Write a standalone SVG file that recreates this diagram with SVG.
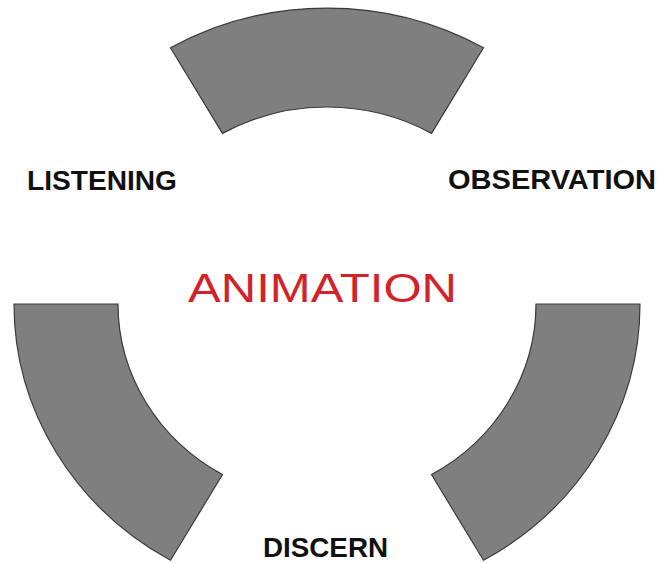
<svg xmlns="http://www.w3.org/2000/svg" width="658" height="563" viewBox="0 0 658 563">
<style>
.seg{fill:#7f7f7f;stroke:#3a3a3a;stroke-width:1.2;stroke-linejoin:miter}
.lbl{font-family:"Liberation Sans",Arial,sans-serif;font-weight:bold;font-size:28px;fill:#111}
.ctr{font-family:"Liberation Sans",Arial,sans-serif;font-size:41px;fill:#d2232a}
</style>
<rect width="658" height="563" fill="#fff"/>
<g id="top-segment">
<path class="seg" d="M170.5,47.7 A313,296 0 0 1 483.5,47.7 L431.5,133.4 A209,197 0 0 0 222.5,133.4 Z"/>
</g>
<g id="left-segment">
<path class="seg" d="M14,304 A313,296 0 0 0 170.5,560.3 L222.5,474.6 A209,197 0 0 1 118,304 Z"/>
</g>
<g id="right-segment">
<path class="seg" d="M640,304 A313,296 0 0 1 483.5,560.3 L431.5,474.6 A209,197 0 0 0 536,304 Z"/>
</g>
<g id="listening"><text class="lbl" x="27" y="190" textLength="150" lengthAdjust="spacingAndGlyphs">LISTENING</text></g>
<g id="observation"><text class="lbl" x="448" y="189" textLength="208" lengthAdjust="spacingAndGlyphs">OBSERVATION</text></g>
<g id="discern"><text class="lbl" x="263" y="557" font-size="27" textLength="125" lengthAdjust="spacingAndGlyphs">DISCERN</text></g>
<g id="animation"><text class="ctr" x="188" y="302" textLength="269" lengthAdjust="spacingAndGlyphs">ANIMATION</text></g>
<g id="connectors"/>
</svg>
